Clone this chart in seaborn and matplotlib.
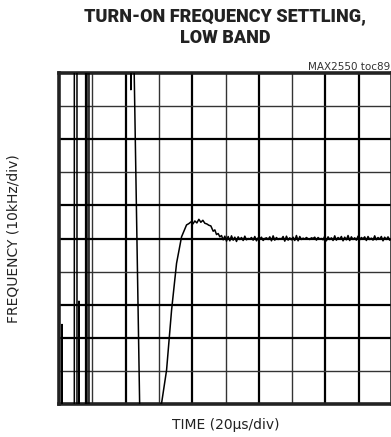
import matplotlib
matplotlib.use("Agg")
import matplotlib.pyplot as plt
import seaborn as sns
import pandas as pd

# trace, in divisions (10 x 10 grid)
# left part: the loop hunts full scale before locking
tempo_div = [0.09, 0.09, 0.09, 0.46, 0.46, 0.54, 0.54, 0.60, 0.60, 0.60, 0.80, 0.80, 0.84, 0.84, 0.90, 0.90,
             2.16, 2.16, 2.16, 2.25, 2.43,
             3.08, 3.23, 3.38, 3.53, 3.68, 3.83, 3.90, 3.96, 4.02, 4.08, 4.14, 4.20, 4.26, 4.32, 4.38, 4.44,
             4.50, 4.56, 4.63, 4.68, 4.73, 4.78, 4.83, 4.88, 4.93, 4.98,
             5.03, 5.08, 5.13, 5.18, 5.23, 5.28, 5.33, 5.38, 5.43, 5.48, 5.53, 5.58, 5.63, 5.68, 5.73, 5.78,
             5.83, 5.88, 5.93, 5.98, 6.03, 6.08, 6.13, 6.18, 6.23, 6.28, 6.33, 6.38, 6.43, 6.48, 6.53, 6.58,
             6.63, 6.68, 6.73, 6.78, 6.83, 6.88, 6.93, 6.98, 7.03, 7.08, 7.13, 7.18, 7.23, 7.28, 7.33, 7.38,
             7.43, 7.48, 7.53, 7.58, 7.63, 7.68, 7.73, 7.78, 7.83, 7.88, 7.93, 7.98, 8.03, 8.08, 8.13, 8.18,
             8.23, 8.28, 8.33, 8.38, 8.43, 8.48, 8.53, 8.58, 8.63, 8.68, 8.73, 8.78, 8.83, 8.88, 8.93, 8.98,
             9.03, 9.08, 9.13, 9.18, 9.23, 9.28, 9.33, 9.38, 9.43, 9.48, 9.53, 9.58, 9.63, 9.68, 9.73, 9.78,
             9.83, 9.88, 9.93, 10.0]
freq_div = [-0.5, 2.4, -0.5, -0.5, 10.5, 10.5, -0.5, -0.5, 3.1, -0.5, -0.5, 10.5, 10.5, -0.5, -0.5, 10.5,
            10.5, 9.5, 10.5, 10.5, -0.5,
            0.02, 1.02, 2.83, 4.25, 5.05, 5.41, 5.45, 5.50, 5.44, 5.53, 5.47, 5.58, 5.49, 5.55, 5.46, 5.44,
            5.40, 5.38, 5.22, 5.26, 5.12, 5.15, 5.05, 5.09, 4.96, 5.07,
            4.92, 5.06, 4.93, 5.08, 4.95, 5.04, 4.91, 5.05, 4.97, 5.03, 4.94, 5.07, 4.96, 5.00, 4.98, 5.03,
            4.95, 5.06, 4.93, 5.02, 4.99, 5.04, 4.94, 5.00, 5.02, 4.97, 5.05, 4.93, 5.08, 4.95, 5.03, 4.97,
            5.00, 4.98, 5.06, 4.92, 5.07, 4.95, 5.02, 4.96, 5.04, 4.94, 5.09, 4.93, 5.06, 4.97, 5.01, 4.98,
            5.03, 4.99, 4.97, 5.02, 5.00, 5.04, 4.95, 5.03, 4.98, 5.00, 4.96, 5.07, 4.93, 5.05, 4.97, 5.02,
            4.94, 5.08, 4.95, 5.03, 4.98, 5.06, 4.93, 5.04, 4.96, 5.09, 4.94, 5.05, 4.97, 5.02, 4.95, 5.07,
            4.96, 5.03, 4.99, 5.05, 4.94, 5.06, 4.97, 5.01, 4.95, 5.08, 4.96, 5.03, 4.98, 5.06, 4.93, 5.04,
            4.97, 5.05, 4.95, 5.00]

# grid line weights (thick scan lines / thin scan lines)
grade_x_grossa = [2, 4, 6, 8, 9]
grade_y_grossa = [2, 3, 5, 6, 8]

dados = pd.DataFrame({"tempo": tempo_div, "freq": freq_div})

sns.set_style("white")
plt.rcParams["font.family"] = ["DejaVu Sans"]

fig = plt.figure(figsize=(3.91, 4.37), dpi=100)
ax = fig.add_axes([59 / 391, 33 / 437, 333 / 391, 331 / 437])

# grade do osciloscopio
for i in range(1, 10):
    lw = 1.6 if i in grade_x_grossa else 1.0
    ax.axvline(i, color="black" if i in grade_x_grossa else "#333333", lw=lw, zorder=1)
for i in range(1, 10):
    lw = 1.6 if i in grade_y_grossa else 1.0
    ax.axhline(i, color="black" if i in grade_y_grossa else "#333333", lw=lw, zorder=1)

sns.lineplot(data=dados, x="tempo", y="freq", sort=False, estimator=None,
             color="black", lw=1.1, ax=ax, zorder=3)

ax.set_xlim(0, 10)
ax.set_ylim(0, 10)
ax.set_xticks([])
ax.set_yticks([])
for lado in ax.spines.values():
    lado.set_linewidth(2.6)
    lado.set_color("#222222")

ax.set_xlabel("TIME (20µs/div)", fontsize=10, color="#222222", labelpad=10)
ax.set_ylabel("FREQUENCY (10kHz/div)", fontsize=10, color="#222222", labelpad=28)

fig.text(225 / 391, 1 - 27 / 437, "TURN-ON FREQUENCY SETTLING,\nLOW BAND", ha="center", va="center",
         fontsize=13, fontweight="heavy", family=["Roboto", "DejaVu Sans"], color="#222222",
         linespacing=1.3)
fig.text(390 / 391, 1 - 67 / 437, "MAX2550 toc89", ha="right", va="center", fontsize=7.5, color="#333333")

fig.savefig("out.png", dpi=100)
